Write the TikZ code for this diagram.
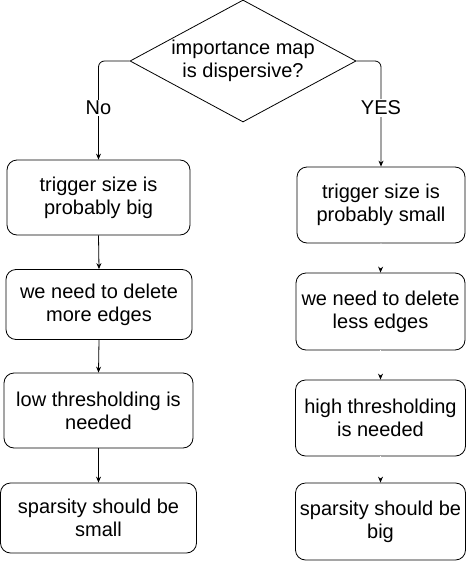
\documentclass[tikz,border=0pt]{standalone}
\usepackage{fontspec}
\setmainfont{Liberation Sans}
\usetikzlibrary{shapes.geometric,arrows.meta}
\tikzset{
  box/.style={draw, line width=0.8pt, rounded corners=10pt, align=center, inner sep=0pt,
    font=\fontsize{20}{23}\selectfont},
  dia/.style={draw, line width=0.8pt, diamond, aspect=1.85, inner sep=0pt, align=center,
    font=\fontsize{20}{23}\selectfont},
  arr/.style={line width=0.8pt, -{Stealth[length=6pt,width=5pt]}},
  ghost/.style={white, line width=0.8pt, -{Stealth[length=6pt,width=5pt,black]}},
  lbl/.style={fill=white, inner sep=1.5pt, font=\fontsize{20}{23}\selectfont}
}
\begin{document}
\begin{tikzpicture}[x=1pt,y=-1pt]
\useasboundingbox (0,0) rectangle (466,562);
\node[dia, minimum width=226pt, minimum height=122pt] (D) at (243,61) {importance map\\is dispersive?};

\node[box, minimum width=183pt, minimum height=75pt] (L1) at (98.5,197.5) {trigger size is\\probably big};
\node[box, minimum width=186pt, minimum height=70pt] (L2) at (99,304.5) {we need to delete\\more edges};
\node[box, minimum width=189pt, minimum height=75pt] (L3) at (98.5,410.5) {low thresholding is\\needed};
\node[box, minimum width=196pt, minimum height=70pt] (L4) at (98.5,518) {sparsity should be\\small};

\node[box, minimum width=168pt, minimum height=76pt] (R1) at (381,205) {trigger size is\\probably small};
\node[box, minimum width=169pt, minimum height=77pt] (R2) at (380.5,311.5) {we need to delete\\less edges};
\node[box, minimum width=170pt, minimum height=76pt] (R3) at (380.5,418) {high thresholding\\is needed};
\node[box, minimum width=170pt, minimum height=77pt] (R4) at (380.5,521.5) {sparsity should be\\big};

\coordinate (cl) at (98.5,61);
\coordinate (cr) at (381,61);
\draw[arr, rounded corners=6pt] (D.west) -- (cl) -- (L1.north);
\draw[arr, rounded corners=6pt] (D.east) -- (cr) -- (R1.north);
\node[lbl] (no) at (98.5,108) {No};
\node[lbl] (yes) at (381,108) {YES};

\draw[arr] (L1.south) -- (L2.north);
\draw[arr] (L2.south) -- (L3.north);
\draw[arr] (L3.south) -- (L4.north);

\draw[ghost] (R1.south) -- (R2.north);
\draw[ghost] (R2.south) -- (R3.north);
\draw[ghost] (R3.south) -- (R4.north);
\end{tikzpicture}
\end{document}
